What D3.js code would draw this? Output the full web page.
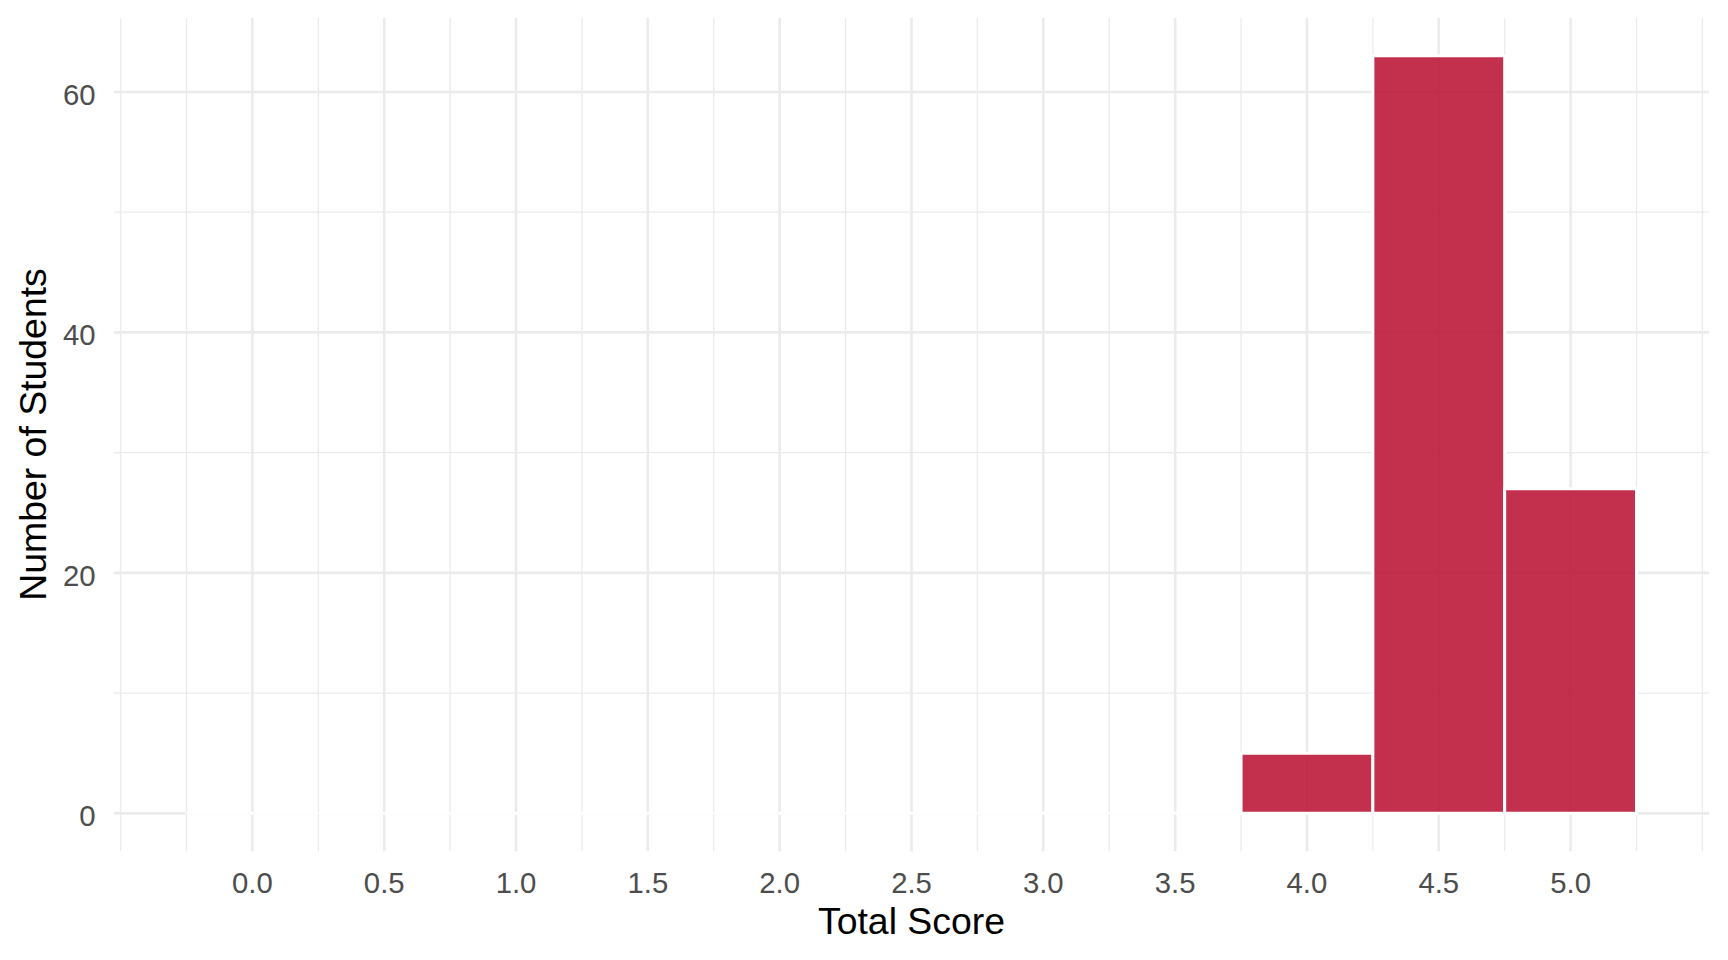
<!DOCTYPE html>
<html>
<head>
<meta charset="utf-8">
<script src="https://cdn.jsdelivr.net/npm/d3@7"></script>
<style>
  html, body { margin: 0; padding: 0; background: #fff; }
  svg { display: block; }
  text { font-family: "Liberation Sans", Arial, sans-serif; }
</style>
</head>
<body>
<svg id="chart" width="1728" height="960"></svg>
<script>
// Data: histogram bins (centers) and counts
const binCenters = [0.0, 0.5, 1.0, 1.5, 2.0, 2.5, 3.0, 3.5, 4.0, 4.5, 5.0];
const counts     = [0,   0,   0,   0,   0,   0,   0,   0,   5,   63,  27];
const binWidth = 0.5;
const xTicks = [0.0, 0.5, 1.0, 1.5, 2.0, 2.5, 3.0, 3.5, 4.0, 4.5, 5.0];
const xMinor = [-0.5, -0.25, 0.25, 0.75, 1.25, 1.75, 2.25, 2.75, 3.25, 3.75, 4.25, 4.75, 5.25, 5.5];
const yTicks = [0, 20, 40, 60];
const yMinor = [10, 30, 50];
const xTitle = "Total Score";
const yTitle = "Number of Students";

const svg = d3.select("#chart");
const panel = { left: 114, right: 1709, top: 18, bottom: 851.2 };

const xLo = -0.25, xHi = 5.25, xPad = (xHi - xLo) * 0.05;
const x = d3.scaleLinear().domain([xLo - xPad, xHi + xPad]).range([panel.left, panel.right]);
const yMax = d3.max(counts), yPad = yMax * 0.05;
const y = d3.scaleLinear().domain([-yPad, yMax + yPad]).range([panel.bottom, panel.top]);

const grid = svg.append("g");
// minor grid
grid.selectAll(".vminor").data(xMinor).enter().append("line")
  .attr("x1", d => x(d)).attr("x2", d => x(d))
  .attr("y1", panel.top).attr("y2", panel.bottom)
  .attr("stroke", "#EBEBEB").attr("stroke-width", 1.3);
grid.selectAll(".hminor").data(yMinor).enter().append("line")
  .attr("y1", d => y(d)).attr("y2", d => y(d))
  .attr("x1", panel.left).attr("x2", panel.right)
  .attr("stroke", "#EBEBEB").attr("stroke-width", 1.3);
// major grid
grid.selectAll(".vmajor").data(xTicks).enter().append("line")
  .attr("x1", d => x(d)).attr("x2", d => x(d))
  .attr("y1", panel.top).attr("y2", panel.bottom)
  .attr("stroke", "#EBEBEB").attr("stroke-width", 2.6);
grid.selectAll(".hmajor").data(yTicks).enter().append("line")
  .attr("y1", d => y(d)).attr("y2", d => y(d))
  .attr("x1", panel.left).attr("x2", panel.right)
  .attr("stroke", "#EBEBEB").attr("stroke-width", 2.6);

// bars (as paths so zero-height bins still draw their white outline)
const bins = binCenters.map((c, i) => ({ c, n: counts[i] }));
svg.append("g").selectAll("path").data(bins).enter().append("path")
  .attr("d", d => {
    const x0 = x(d.c - binWidth / 2), x1 = x(d.c + binWidth / 2);
    const y0 = y(0), y1 = y(d.n);
    return `M${x0},${y0}H${x1}V${y1}H${x0}Z`;
  })
  .attr("fill", "rgba(189,26,58,0.9)")
  .attr("stroke", "#ffffff")
  .attr("stroke-width", 3);

// axes labels
svg.append("g").selectAll("text").data(xTicks).enter().append("text")
  .attr("x", d => x(d)).attr("y", 892.5)
  .attr("text-anchor", "middle")
  .attr("font-size", 29.3).attr("fill", "#4D4D4D")
  .text(d => d3.format(".1f")(d));
svg.append("g").selectAll("text").data(yTicks).enter().append("text")
  .attr("x", 95.5).attr("y", d => y(d) + 13)
  .attr("text-anchor", "end")
  .attr("font-size", 29.3).attr("fill", "#4D4D4D")
  .text(d => d);

svg.append("text")
  .attr("x", (panel.left + panel.right) / 2).attr("y", 933.5)
  .attr("text-anchor", "middle").attr("font-size", 37.4).attr("fill", "#000")
  .text(xTitle);
svg.append("text")
  .attr("transform", `translate(46,434.5) rotate(-90)`)
  .attr("text-anchor", "middle").attr("font-size", 37.4).attr("fill", "#000")
  .text(yTitle);
</script>
</body>
</html>
